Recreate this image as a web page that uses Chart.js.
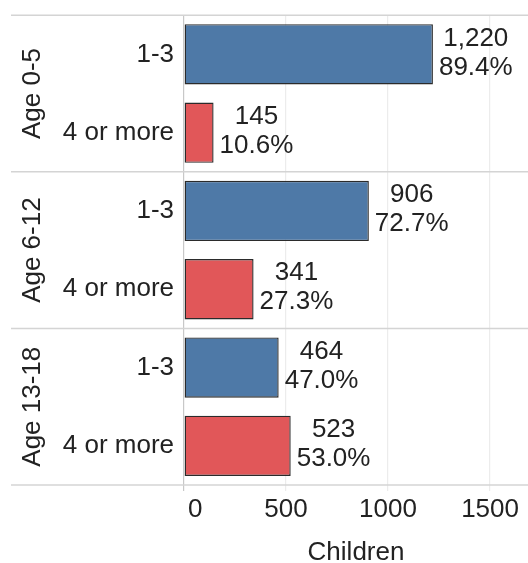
<!DOCTYPE html>
<html>
<head>
<meta charset="utf-8">
<script src="https://cdn.jsdelivr.net/npm/chart.js@4"></script>
<style>
  html, body { margin: 0; padding: 0; background: #fff; }
  #wrap { width: 528px; height: 563px; }
</style>
</head>
<body>
<div id="wrap"><canvas id="barChart"></canvas></div>
<script>
// data
var ageGroups = ["Age 0-5", "Age 6-12", "Age 13-18"];
var sizeLabels = ["1-3", "4 or more"];
var children = [1220, 145, 906, 341, 464, 523];
var shares = [89.4, 10.6, 72.7, 27.3, 47.0, 53.0];
var xTicks = [0, 500, 1000, 1500];

var blue = '#4e79a7', red = '#e15759';
var font = '"Liberation Sans", Arial, sans-serif';
var txt = '#222';

var rowLabels = [];
var rowColors = [];
ageGroups.forEach(function () {
  sizeLabels.forEach(function (s, j) {
    rowLabels.push(s);
    rowColors.push(j === 0 ? blue : red);
  });
});

// group names + separator lines + x tick labels kept inside the plot
var groupPlugin = {
  id: 'groups',
  afterDraw: function (chart) {
    var ctx = chart.ctx, area = chart.chartArea, x = chart.scales.x;
    var n = sizeLabels.length;
    var step = (area.bottom - area.top) / rowLabels.length;
    ctx.save();
    ctx.strokeStyle = '#d4d4d4';
    ctx.lineWidth = 1.5;
    for (var g = 0; g <= ageGroups.length; g++) {
      var yy = area.top + g * n * step;
      ctx.beginPath();
      ctx.moveTo(11, yy);
      ctx.lineTo(chart.width, yy);
      ctx.stroke();
    }
    ctx.fillStyle = txt;
    ctx.font = '26px ' + font;
    ctx.textAlign = 'center';
    ctx.textBaseline = 'middle';
    ageGroups.forEach(function (name, g) {
      var cy = area.top + (g * n + n / 2) * step;
      ctx.save();
      ctx.translate(33, cy);
      ctx.rotate(-Math.PI / 2);
      ctx.fillText(name, 0, 0);
      ctx.restore();
    });
    ctx.textAlign = 'left';
    xTicks.forEach(function (v) {
      var s = String(v);
      var w = ctx.measureText(s).width;
      var left = Math.max(x.getPixelForValue(v) - w / 2, area.left + 4);
      ctx.fillText(s, left, area.bottom + 25);
    });
    ctx.restore();
  }
};

// value + share label beside each bar
var valuePlugin = {
  id: 'values',
  afterDatasetsDraw: function (chart) {
    var ctx = chart.ctx;
    var meta = chart.getDatasetMeta(0);
    ctx.save();
    ctx.fillStyle = txt;
    ctx.font = '26px ' + font;
    ctx.textAlign = 'center';
    ctx.textBaseline = 'middle';
    meta.data.forEach(function (bar, i) {
      var l1 = children[i].toLocaleString('en-US');
      var l2 = shares[i].toFixed(1) + '%';
      var w = Math.max(ctx.measureText(l1).width, ctx.measureText(l2).width);
      var cx = bar.x + 6 + w / 2;
      ctx.fillText(l1, cx, bar.y - 16);
      ctx.fillText(l2, cx, bar.y + 13);
    });
    ctx.restore();
  }
};

var ctx = document.getElementById('barChart').getContext('2d');
var myChart = new Chart(ctx, {
  type: 'bar',
  data: {
    labels: rowLabels,
    datasets: [{
      data: children,
      backgroundColor: rowColors,
      borderColor: '#2b2b2b',
      borderWidth: 1.4,
      borderSkipped: false,
      categoryPercentage: 1,
      barPercentage: 0.77
    }]
  },
  options: {
    indexAxis: 'y',
    responsive: true,
    maintainAspectRatio: false,
    animation: false,
    layout: { padding: { top: 15, right: 0, left: 0, bottom: 0 } },
    plugins: {
      legend: { display: false },
      tooltip: { enabled: false }
    },
    scales: {
      x: {
        min: 0,
        max: 1686,
        afterBuildTicks: function (scale) {
          scale.ticks = xTicks.map(function (v) { return { value: v }; });
        },
        afterFit: function (scale) { scale.height = 78; },
        border: { display: false },
        grid: {
          color: function (c) { return c.tick && c.tick.value === 0 ? '#c8c8c8' : '#ececec'; },
          lineWidth: 1.2,
          tickLength: 6
        },
        ticks: { display: false },
        title: {
          display: true,
          text: 'Children',
          color: txt,
          font: { size: 26, family: font, lineHeight: 1 },
          padding: { top: 0, bottom: -3 }
        }
      },
      y: {
        afterFit: function (scale) { scale.width = 184; },
        border: { display: false },
        grid: { display: false, drawTicks: false },
        ticks: {
          color: txt,
          font: { size: 26, family: font, lineHeight: 0.4 },
          padding: 10,
          autoSkip: false
        }
      }
    }
  },
  plugins: [groupPlugin, valuePlugin]
});
</script>
</body>
</html>
